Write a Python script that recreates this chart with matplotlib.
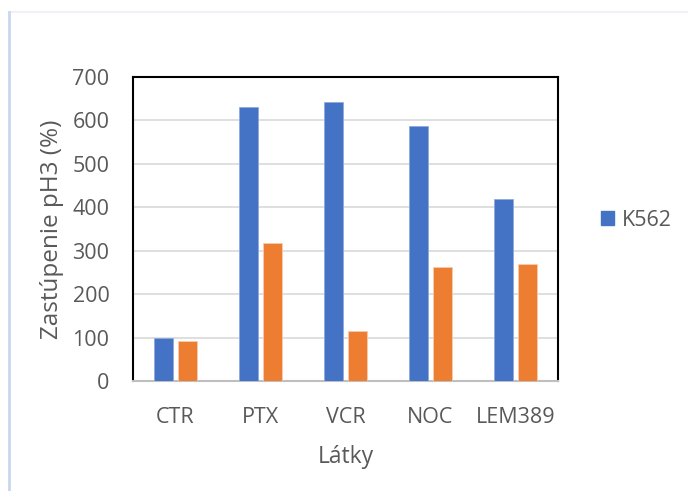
import numpy as np
import matplotlib
matplotlib.use("Agg")
import matplotlib.pyplot as plt
from matplotlib.lines import Line2D

categories = ["CTR", "PTX", "VCR", "NOC", "LEM389"]
k562 = [99, 632, 642, 588, 419]
second = [93, 317, 114, 263, 270]

plt.rcParams["font.family"] = ["Open Sans", "DejaVu Sans"]
grey = "#595959"

fig = plt.figure(figsize=(6.88, 4.91), dpi=100)
ax = fig.add_axes([133 / 688, 1 - 381 / 491, 425 / 688, 304 / 491])

x = np.arange(len(categories))
w = 0.224
ax.bar(x - 0.144, k562, w, color="#4472C4", edgecolor="#8faadc", linewidth=0.6, label="K562", zorder=3)
ax.bar(x + 0.144, second, w, color="#ED7D31", edgecolor="#f8cbad", linewidth=0.6, zorder=3)

ax.set_xlim(-0.5, 4.5)
ax.set_ylim(0, 700)
ax.set_yticks(range(0, 701, 100))
ax.yaxis.grid(True, color="#d9d9d9", linewidth=1.2, zorder=0)
ax.set_xticks(x)
ax.set_xticklabels(categories)
ax.tick_params(axis="y", length=0, pad=17, labelsize=15.5, labelcolor=grey)
ax.tick_params(axis="x", length=0, pad=19, labelsize=15.5, labelcolor=grey)
for s in ["left", "top", "right"]:
    ax.spines[s].set_color("black")
    ax.spines[s].set_linewidth(1.5)
ax.spines["bottom"].set_color("#bfbfbf")
ax.spines["bottom"].set_linewidth(1.5)
ax.set_ylabel("Zastúpenie pH3 (%)", fontsize=17.5, color=grey, labelpad=6)
ax.set_xlabel("Látky", fontsize=16.5, color=grey, labelpad=12)

fig.legend(handles=[plt.Rectangle((0, 0), 1, 1, color="#4472C4")], labels=["K562"],
           loc="center left", bbox_to_anchor=(582 / 688, 1 - 220 / 491), frameon=False,
           fontsize=15.5, labelcolor=grey, handlelength=0.6, handleheight=0.6, handletextpad=0.35)

fig.add_artist(Line2D([9 / 688, 1], [1 - 12 / 491, 1 - 12 / 491], color="#eef2f8", lw=1.5))
fig.add_artist(Line2D([9 / 688, 9 / 688], [0, 1 - 12 / 491], color="#c9d6ee", lw=2))

fig.savefig("out.png", dpi=100)
